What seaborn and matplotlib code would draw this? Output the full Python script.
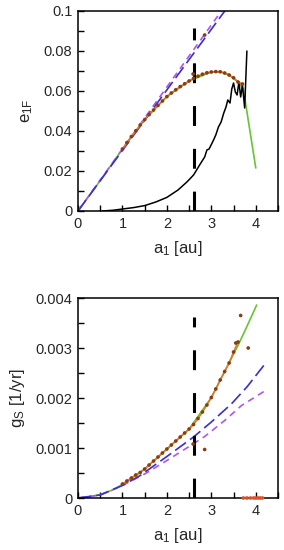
import matplotlib
matplotlib.use("Agg")
import matplotlib.pyplot as plt
import seaborn as sns
import pandas as pd
from matplotlib.ticker import MultipleLocator

# ---------------- data: top panel (e_1F) ----------------
dot_a = [1.0, 1.1, 1.2, 1.3, 1.4, 1.5, 1.6, 1.7, 1.8, 1.9, 2.0, 2.1, 2.2, 2.3,
         2.4, 2.5, 2.6, 2.7, 2.8, 2.9, 3.0, 3.1, 3.2, 3.3, 3.4, 3.5, 3.6, 3.7]
e_dots = [0.0310, 0.0342, 0.0372, 0.0401, 0.0430, 0.0457, 0.0482, 0.0505, 0.0528,
          0.0550, 0.0572, 0.0590, 0.0606, 0.0622, 0.0636, 0.0650, 0.0663, 0.0674,
          0.0684, 0.0691, 0.0695, 0.0697, 0.0696, 0.0690, 0.0680, 0.0666, 0.0645,
          0.0635]
e_out_a = [2.59, 2.85]
e_out = [0.0685, 0.088]

green_top_a = [0.0, 0.5, 1.0, 1.5, 2.0, 2.5, 3.0, 3.2, 3.4, 3.6, 3.72, 4.0]
green_top_e = [0.0, 0.0152, 0.0310, 0.0457, 0.0572, 0.0650, 0.0695, 0.0696,
               0.0680, 0.0645, 0.0610, 0.0215]

black_a = [0.55, 0.8, 1.0, 1.25, 1.5, 1.75, 2.0, 2.25, 2.45, 2.6, 2.75, 2.85, 2.9,
           2.95, 3.05, 3.1, 3.16, 3.22, 3.28, 3.33, 3.37, 3.42, 3.46, 3.5, 3.54,
           3.58, 3.62, 3.66, 3.7, 3.75, 3.8]
black_e = [0.0, 0.0004, 0.001, 0.0017, 0.0027, 0.0045, 0.0068, 0.0105, 0.0145,
           0.018, 0.0235, 0.027, 0.0305, 0.031, 0.0355, 0.038, 0.042, 0.0445,
           0.049, 0.052, 0.0555, 0.054, 0.061, 0.064, 0.0595, 0.058, 0.0645,
           0.057, 0.063, 0.0515, 0.080]

lin_a = [0.0, 3.5]
blue_top_e = [0.0, 0.1060]
purple_top_e = [0.0, 0.1085]

# ---------------- data: bottom panel (g_S) ----------------
g_dots = [0.00028, 0.00034, 0.00040, 0.00046, 0.00051, 0.00058, 0.00066, 0.00074,
          0.00082, 0.00090, 0.00098, 0.00106, 0.00114, 0.00122, 0.00130, 0.00138,
          0.00147, 0.00159, 0.00172, 0.00186, 0.00201, 0.00218, 0.00236, 0.00253,
          0.00270, 0.00292, 0.00312]
g_dot_a = dot_a[:27]
g_out_a = [2.59, 2.85, 3.55, 3.66, 3.83]
g_out = [0.00108, 0.00097, 0.00310, 0.00365, 0.00300]

green_bot_a = [0.0, 0.25, 0.5, 0.75, 1.0, 1.5, 2.0, 2.5, 3.0, 3.3, 3.6, 3.8, 4.02]
green_bot_g = [0.0, 0.00002, 0.00007, 0.00015, 0.00027, 0.00058, 0.00098,
               0.00138, 0.00201, 0.00253, 0.00305, 0.00343, 0.00386]

blue_bot_a = [0.0, 0.5, 1.0, 1.4, 2.0, 2.6, 3.0, 3.45, 3.8, 4.25]
blue_bot_g = [0.0, 0.00006, 0.00025, 0.00045, 0.00083, 0.00122, 0.00152,
              0.00188, 0.00222, 0.00273]

purple_bot_a = [0.0, 0.5, 1.0, 1.5, 2.0, 2.5, 2.85, 3.3, 3.68, 4.2]
purple_bot_g = [0.0, 0.00006, 0.00025, 0.00048, 0.00075, 0.00103, 0.00123,
                0.00155, 0.00185, 0.00214]

zero_a = [3.72, 3.8, 3.88, 3.95, 4.0, 4.05, 4.1, 4.15]
zero_g = [0.0, 0.0, 0.0, 0.0, 0.0, 0.0, 0.0, 0.0]

a_vline = 2.6

# ---------------- style ----------------
sns.set_style("ticks")
plt.rcParams['font.family'] = ['Liberation Sans', 'DejaVu Sans']
plt.rcParams['mathtext.fontset'] = 'custom'
plt.rcParams['mathtext.rm'] = 'Liberation Sans'
plt.rcParams['mathtext.it'] = 'Liberation Sans'

GREEN = "#66c530"
ORANGE = "#e0782a"
BROWN = "#8a3c14"
BLUE = "#3a2ed0"
PURPLE = "#b055ee"
RED = "#e0502a"

fig = plt.figure(figsize=(2.84, 5.5), dpi=100)
ax1 = fig.add_axes([78/284, 1-211/550, 200/284, 200/550])
ax2 = fig.add_axes([78/284, 1-498/550, 200/284, 200/550])


def style_axis(ax, ymax, ymaj, ymin):
    ax.set_xlim(0, 4.5)
    ax.set_ylim(0, ymax)
    ax.xaxis.set_major_locator(MultipleLocator(1))
    ax.xaxis.set_minor_locator(MultipleLocator(0.5))
    ax.yaxis.set_major_locator(MultipleLocator(ymaj))
    ax.yaxis.set_minor_locator(MultipleLocator(ymin))
    ax.tick_params(which='both', direction='in', length=4, width=1,
                   color='black', labelsize=10.5, pad=4)
    for sp in ax.spines.values():
        sp.set_color('black')
        sp.set_linewidth(1.1)
    ax.set_xlabel(r"a$_\mathregular{1}$ [au]", fontsize=12, labelpad=6)


# ---- top panel ----
sns.lineplot(x=green_top_a, y=green_top_e, ax=ax1, color=GREEN, lw=1.2, sort=False)
sns.lineplot(x=black_a, y=black_e, ax=ax1, color='black', lw=1.1, sort=False)
sns.lineplot(x=lin_a, y=purple_top_e, ax=ax1, color=PURPLE, lw=1.2,
             dashes=False, sort=False).lines[-1].set_dashes([4, 3])
sns.lineplot(x=lin_a, y=blue_top_e, ax=ax1, color=BLUE, lw=1.2,
             sort=False).lines[-1].set_dashes([8, 3])
sns.lineplot(x=dot_a, y=e_dots, ax=ax1, color=ORANGE, lw=1.2, sort=False)
sns.scatterplot(x=dot_a + e_out_a, y=e_dots + e_out, ax=ax1, color=BROWN,
                s=7, edgecolor='none', zorder=5)
ax1.axvline(a_vline, ymin=0, ymax=0.915, color='black', lw=2.2,
            dashes=(6.5, 7.5))
style_axis(ax1, 0.1, 0.02, 0.01)
ax1.set_yticks([0, 0.02, 0.04, 0.06, 0.08, 0.1])
ax1.set_yticklabels(["0", "0.02", "0.04", "0.06", "0.08", "0.1"])
ax1.set_ylabel(r"e$_\mathregular{1F}$", fontsize=12, labelpad=6)

# ---- bottom panel ----
sns.lineplot(x=green_bot_a, y=green_bot_g, ax=ax2, color=GREEN, lw=1.2, sort=False)
sns.lineplot(x=purple_bot_a, y=purple_bot_g, ax=ax2, color=PURPLE, lw=1.2,
             sort=False).lines[-1].set_dashes([4, 3])
sns.lineplot(x=blue_bot_a, y=blue_bot_g, ax=ax2, color=BLUE, lw=1.2,
             sort=False).lines[-1].set_dashes([8, 3])
sns.lineplot(x=g_dot_a, y=g_dots, ax=ax2, color=ORANGE, lw=1.2, sort=False)
sns.lineplot(x=zero_a, y=zero_g, ax=ax2, color=RED, lw=1.5, sort=False)
sns.scatterplot(x=g_dot_a + g_out_a, y=g_dots + g_out, ax=ax2, color=BROWN,
                s=7, edgecolor='none', zorder=5)
sns.scatterplot(x=zero_a, y=zero_g, ax=ax2, color=RED, s=7, edgecolor='none',
                zorder=5, clip_on=False)
ax2.axvline(a_vline, ymin=0, ymax=0.905, color='black', lw=2.2,
            dashes=(6.5, 7.5))
style_axis(ax2, 0.004, 0.001, 0.0005)
ax2.set_yticks([0, 0.001, 0.002, 0.003, 0.004])
ax2.set_yticklabels(["0", "0.001", "0.002", "0.003", "0.004"])
ax2.set_ylabel(r"g$_\mathregular{S}$ [1/yr]", fontsize=12, labelpad=6)

for ax in (ax1, ax2):
    leg = ax.get_legend()
    if leg is not None:
        leg.remove()

fig.savefig("out.png", dpi=100)
